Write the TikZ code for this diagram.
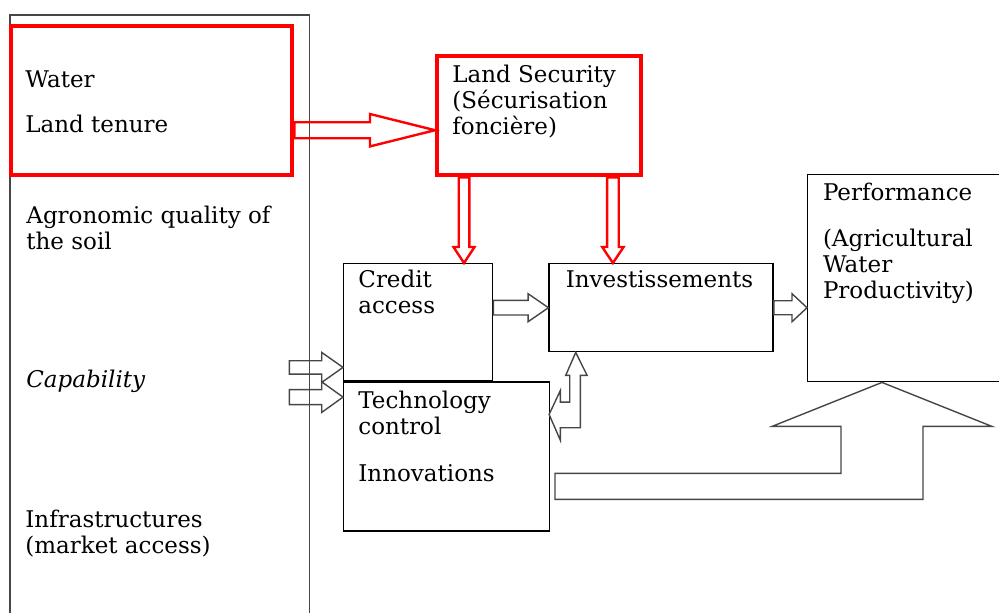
\documentclass[tikz,border=0pt]{standalone}
\usepackage{fontspec}
\setmainfont{DejaVu Serif}
\usepackage{xcolor}
\usetikzlibrary{calc, positioning}

\definecolor{boxred}{RGB}{255,0,0}
\definecolor{edgegray}{RGB}{70,70,70}

% hollow block arrows: style, tail, tip, shaft half width, head half width, head length
\newcommand{\blockright}[6]{%
  \draw[#1] ($(#2)+(0,#4)$) -- ($(#3)+(-#6,#4)$) -- ($(#3)+(-#6,#5)$) -- (#3)
    -- ($(#3)+(-#6,-#5)$) -- ($(#3)+(-#6,-#4)$) -- ($(#2)+(0,-#4)$) -- cycle;}
\newcommand{\blockdown}[6]{%
  \draw[#1] ($(#2)+(#4,0)$) -- ($(#3)+(#4,-#6)$) -- ($(#3)+(#5,-#6)$) -- (#3)
    -- ($(#3)+(-#5,-#6)$) -- ($(#3)+(-#4,-#6)$) -- ($(#2)+(-#4,0)$) -- cycle;}

\begin{document}
\begin{tikzpicture}[
    x=0.5pt, y=-0.5pt,
    every node/.style={font=\fontsize{11.5}{13}\selectfont},
    box/.style={
        rectangle,
        draw=black,
        line width=0.7pt,
        anchor=north west,
        inner sep=0pt
    },
    redbox/.style={
        box,
        draw=boxred,
        line width=2.2pt
    },
    txt/.style={
        anchor=north west,
        inner sep=0pt,
        align=left
    },
    redarrow/.style={
        draw=boxred,
        line width=1.2pt,
        line join=miter
    },
    grayarrow/.style={
        draw=edgegray,
        line width=0.7pt,
        line join=miter
    }
]
    \useasboundingbox (0,0) rectangle (999,612);

    % --- BOXES ---
    \node [box, draw=edgegray, line width=0.9pt, minimum width=149.75pt, minimum height=320pt] (factors) at (9,14) {};
    \node [redbox, minimum width=140.5pt, minimum height=74.5pt] (water) at (9,24) {};
    \node [redbox, minimum width=102pt, minimum height=59.5pt] (landsec) at (435,54) {};
    \node [box, minimum width=74.5pt, minimum height=58.5pt] (credit) at (343,263) {};
    \node [box, minimum width=102.75pt, minimum height=74.5pt, below right=0pt and 0pt of credit.south west] (techno) {};
    \node [box, minimum width=112pt, minimum height=44pt, below right=0pt and 27.5pt of credit.north east] (invest) {};
    \node [box, minimum width=101.5pt, minimum height=103.5pt] (perf) at (807,174) {};

    % --- TEXTS ---
    \node [txt, below right=23pt and 8pt of water.north west] (watertxt) {Water\\[9.5pt]Land tenure};
    \node [txt, below right=96pt and 8.5pt of factors.north west] (agro) {Agronomic quality of\\the soil};
    \node [txt, below right=178pt and 8.5pt of factors.north west] (capab) {\textit{Capability}};
    \node [txt, below right=248pt and 8pt of factors.north west] (infra) {Infrastructures\\(market access)};
    \node [txt, below right=5.3pt and 8.5pt of landsec.north west] (landsectxt) {Land Security\\(Sécurisation\\foncière)};
    \node [txt, below right=3.5pt and 7.5pt of credit.north west] (credittxt) {Credit\\access};
    \node [txt, below right=4.8pt and 7.5pt of techno.north west] (technotxt) {Technology\\control\\[10.3pt]Innovations};
    \node [txt, below right=3.7pt and 8.5pt of invest.north west] (investtxt) {Investissements};
    \node [txt, below right=4.5pt and 7.8pt of perf.north west] (perftxt) {Performance\\[10pt](Agricultural\\Water\\Productivity)};

    % --- RED LINKS ---
    \coordinate (sectip) at ($(landsec.west)+(0,14.5)$);
    \blockright{redarrow}{water.east |- sectip}{sectip}{8}{16.2}{65}
    \coordinate (credtip) at ($(credit.north west)+(121,0)$);
    \blockdown{redarrow}{landsec.south -| credtip}{credtip}{5.3}{10.5}{16}
    \coordinate (invtip) at ($(invest.north west)+(64.5,0)$);
    \blockdown{redarrow}{landsec.south -| invtip}{invtip}{5.8}{10.7}{16}

    % --- GRAY LINKS ---
    \blockright{grayarrow}{credit.east |- invest.west}{invest.west}{7.3}{14}{20.3}
    \coordinate (perftip) at (perf.west |- invest.east);
    \blockright{grayarrow}{invest.east}{perftip}{7}{14}{15}
    \coordinate (captipa) at ($(credit.west)+(0,45.2)$);
    \coordinate (captipb) at ($(techno.north west)+(0,15.7)$);
    \blockright{grayarrow}{$(factors.east |- captipa)+(-21,0)$}{captipa}{6.7}{15}{21.3}
    \blockright{grayarrow}{$(factors.east |- captipb)+(-21,0)$}{captipb}{7.5}{15.3}{21.3}

    % bent arrow between technology and investments
    \coordinate (updown) at ($(invest.south west)+(27.3,0)$);
    \draw [grayarrow] (updown) -- ++(11.4,23) -- ++(-6.7,0) -- ++(0,52.3) -- ++(-20,0)
        -- ++(0,12.7) -- ++(-11.3,-26) -- ++(11.3,-24) -- ++(0,11.7) -- ++(9.3,0)
        -- ++(0,-26.7) -- ++(-4,0) -- cycle;

    % large bent arrow into performance
    \coordinate (perfup) at ($(perf.south west)+(75,0)$);
    \draw [grayarrow] (perfup) -- ++(110,44) -- ++(-69,0) -- ++(0,73) -- ++(-368,0)
        -- ++(0,-26) -- ++(286,0) -- ++(0,-47) -- ++(-69,0) -- cycle;
\end{tikzpicture}
\end{document}
